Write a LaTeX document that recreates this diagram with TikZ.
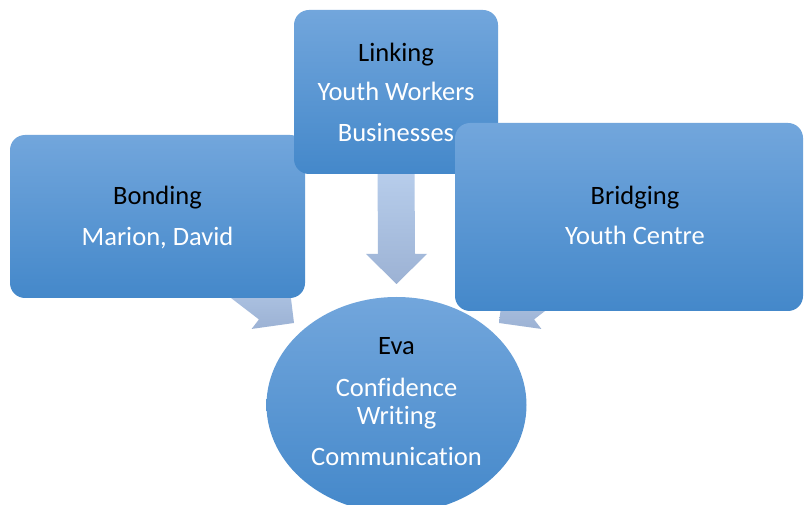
\documentclass[tikz,border=0pt]{standalone}
\usepackage{fontspec}
\setmainfont{Carlito}[Ligatures=NoCommon,RawFeature=-liga]
\usetikzlibrary{shapes.geometric,backgrounds}
\definecolor{boxtop}{RGB}{114,166,220}
\definecolor{boxbot}{RGB}{68,136,202}
\definecolor{arrtop}{RGB}{184,206,236}
\definecolor{arrbot}{RGB}{156,178,212}
\tikzset{
  box/.style={rectangle, rounded corners=15pt, top color=boxtop, bottom color=boxbot, draw=none, inner sep=0pt},
  oval/.style={ellipse, top color=boxtop, bottom color=boxbot, draw=none, inner sep=0pt},
  head/.style={anchor=base, text=black, inner sep=0pt, font=\fontsize{26.5}{30}\selectfont},
  item/.style={head, text=white},
  blockarrow/.style={top color=arrtop, bottom color=arrbot, draw=none}
}
\begin{document}
\begin{tikzpicture}[x=1pt,y=-1pt]
\clip (0,0) rectangle (804,505);
% Bonding
\node[box, minimum width=295pt, minimum height=163pt] (bond) at (157.5,216.5) {};
\node[head] (tBond) at (157.5,204.5) {Bonding};
\node[item] (tMD) at (157.5,245.5) {Marion, David};
% Linking
\node[box, minimum width=204pt, minimum height=164pt] (link) at (396,92) {};
\node[head] (tLink) at (396,61.5) {Linking};
\node[item] (tYW) at (396,100.5) {Youth Workers};
\node[item] (tBus) at (396,141.5) {Businesses};
% Bridging
\node[box, minimum width=348pt, minimum height=188pt] (bridge) at (629,217) {};
\node[head] (tBridge) at (635,204.5) {Bridging};
\node[item] (tYC) at (635,244.5) {Youth Centre};
% Eva
\node[oval, minimum width=260pt, minimum height=216pt] (eva) at (396.5,405) {};
\node[head] (tEva) at (396.5,354.5) {Eva};
\node[item] (tConf) at (396.5,396.5) {Confidence};
\node[item] (tWrit) at (396.5,424.5) {Writing};
\node[item] (tComm) at (396.5,465.5) {Communication};
% arrows
\coordinate (tipD) at (396.5,284);
\coordinate (tipL) at (294,323);
\coordinate (tipR) at (499,323);
\begin{pgfonlayer}{background}
\fill[white] (0,0) rectangle (804,505);
\shade[blockarrow] ([xshift=-18.5pt,yshift=5pt]link.south) -- ([xshift=-18.5pt,yshift=30pt]tipD)
  -- ([xshift=-30.5pt,yshift=30pt]tipD) -- (tipD) -- ([xshift=30.5pt,yshift=30pt]tipD)
  -- ([xshift=18.5pt,yshift=30pt]tipD) -- ([xshift=18.5pt,yshift=5pt]link.south) -- cycle;
\begin{scope}[shift={(tipL)}, rotate=-37.5]
  \shade[blockarrow] (0,0) -- (-30,30.5) -- (-30,18.5) -- (-75,18.5) -- (-75,-18.5) -- (-30,-18.5) -- (-30,-30.5) -- cycle;
\end{scope}
\begin{scope}[shift={(tipR)}, rotate=-142.5]
  \shade[blockarrow] (0,0) -- (-30,30.5) -- (-30,18.5) -- (-75,18.5) -- (-75,-18.5) -- (-30,-18.5) -- (-30,-30.5) -- cycle;
\end{scope}
\end{pgfonlayer}
\end{tikzpicture}
\end{document}
